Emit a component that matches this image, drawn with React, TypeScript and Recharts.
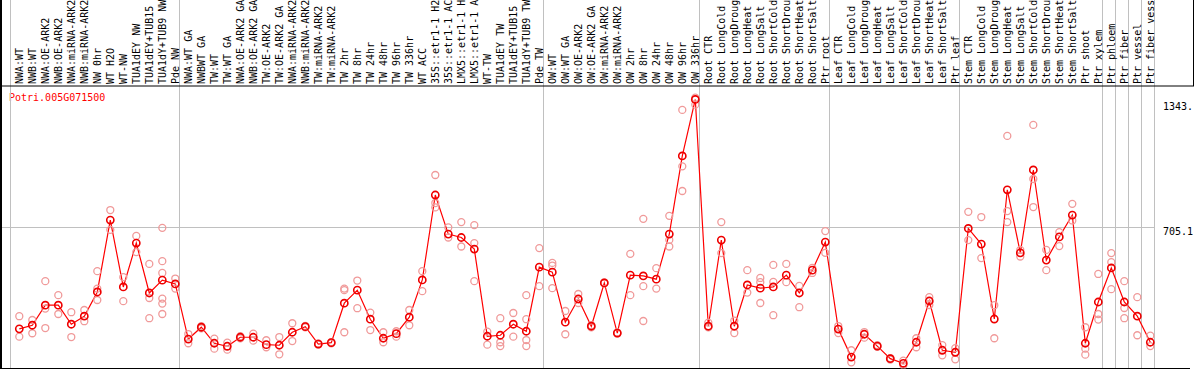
import {
  ComposedChart,
  Line,
  Scatter,
  XAxis,
  YAxis,
  ReferenceLine,
  Customized,
} from "recharts";

const categories = [
  "NWA:WT", "NWB:WT", "NWA:OE-ARK2", "NWB:OE-ARK2", "NWA:miRNA-ARK2", "NWB:miRNA-ARK2",
  "NW 0hr", "WT H2O", "WT-NW", "TUA1dEY NW", "TUA1dEY+TUB15 NW", "TUA1dY+TUB9 NW", "Pde NW",
  "NWA:WT GA", "NWBWT GA", "TW:WT", "TW:WT GA", "NWA:OE-ARK2 GA", "NWB:OE-ARK2 GA",
  "TW:OE-ARK2", "TW:OE-ARK2 GA", "NWA:miRNA-ARK2", "NWB:miRNA-ARK2", "TW:miRNA-ARK2",
  "TW:miRNA-ARK2", "TW 2hr", "TW 8hr", "TW 24hr", "TW 48hr", "TW 96hr", "TW 336hr", "WT ACC",
  "35S::etr1-1 H2O", "35S::etr1-1 ACC", "LMX5::etr1-1 H2O", "LMX5::etr1-1 ACC", "WT-TW",
  "TUA1dEY TW", "TUA1dEY+TUB15 TW", "TUA1dY+TUB9 TW", "Pde TW",
  "OW:WT", "OW:WT GA", "OW:OE-ARK2", "OW:OE-ARK2 GA", "OW:miRNA-ARK2", "OW:miRNA-ARK2",
  "OW 2hr", "OW 8hr", "OW 24hr", "OW 48hr", "OW 96hr", "OW 336hr",
  "Root CTR", "Root LongCold", "Root LongDrought", "Root LongHeat", "Root LongSalt",
  "Root ShortCold", "Root ShortDrought", "Root ShortHeat", "Root ShortSalt", "Ptr root",
  "Leaf CTR", "Leaf LongCold", "Leaf LongDrought", "Leaf LongHeat", "Leaf LongSalt",
  "Leaf ShortCold", "Leaf ShortDrought", "Leaf ShortHeat", "Leaf ShortSalt", "Ptr leaf",
  "Stem CTR", "Stem LongCold", "Stem LongDrought", "Stem LongHeat", "Stem LongSalt",
  "Stem ShortCold", "Stem ShortDrought", "Stem ShortHeat", "Stem ShortSalt", "Ptr shoot",
  "Ptr xylem", "Ptr phloem", "Ptr fiber", "Ptr vessel", "Ptr fiber vessel",
];

// mean expression per sample
const means = [
  198, 216, 316, 316, 221, 261, 382, 741, 407, 626, 377, 441, 422,
  147, 206, 126, 111, 156, 156, 119, 116, 181, 209, 122, 129, 326, 391, 246, 151, 174, 256,
  442, 866, 671, 654, 596, 161, 166, 221, 186, 506,
  481, 231, 347, 211, 427, 177, 466, 462, 446, 671, 1061, 1343,
  211, 641, 211, 417, 401, 407, 466, 377, 491, 631,
  197, 57, 171, 112, 49, 26, 131, 337, 91, 81,
  699, 621, 247, 892, 577, 991, 541, 657, 766, 126, 332,
  502, 332, 261, 131,
];

// individual replicates per sample
const replicates = [
  [261, 159], [242, 176], [436, 299, 202], [366, 272], [281, 157], [292, 236],
  [486, 399, 342], [791, 692], [456, 336], [662, 581], [522, 352, 251],
  [702, 536, 477, 349, 324, 272], [449, 399],
  [172, 126], [201, 211], [149, 99], [129, 94], [151, 161], [174, 139], [141, 106],
  [157, 71], [226, 137], [205, 213], [120, 125], [126, 132], [399, 391, 181], [439, 301],
  [279, 192], [181, 131], [186, 159], [292, 216], [486, 386], [966, 826, 804], [704, 654],
  [731, 609], [716, 626, 436], [184, 119], [251, 131, 112], [277, 159],
  [366, 246, 142, 112], [601, 411],
  [527, 514, 401], [287, 171], [372, 327], [205, 216], [425, 430], [175, 180], [572, 366],
  [747, 411, 237], [501, 399], [762, 642, 609], [1291, 1009, 886], [1352, 1317],
  [229, 205], [731, 576], [239, 177], [491, 379], [452, 431, 327], [517, 432, 266],
  [522, 431], [412, 306], [477, 502], [686, 577],
  [177, 212], [91, 31], [154, 182], [108, 117], [45, 52], [39, 16], [151, 106], [356, 317],
  [117, 66], [102, 46],
  [782, 641], [756, 551], [316, 151], [1161, 786, 731], [592, 559], [1216, 946, 806],
  [592, 491], [681, 611], [822, 739], [206, 99, 69], [472, 272, 244],
  [576, 531, 396], [436, 302, 251], [356, 166], [164, 112],
];

// first sample index of each block, plus the end
const groupStarts = [0, 13, 41, 53, 63, 73, 84, 85, 86, 87, 88];

const yTicks = [0, 705.1, 1343];
const yTickText = ["0", "705.1", "1343."];

const title = "Potri.005G071500";

const W = 1194;
const H = 370;
const STEP = 13;
const X_MIN = -19.3 / STEP;
const X_MAX = X_MIN + W / STEP;
const Y_MAX = 1410.2;
const Y_TOP = 1900;
const FONT = "'DejaVu Sans Mono', 'Liberation Mono', monospace";

const lineData = means.map((v, i) => ({ x: i, v }));
const repData = replicates.flatMap((vals, i) => vals.map((v) => ({ x: i, v })));

const XTick = (props: any) => {
  const { x, payload } = props;
  return (
    <text
      x={x}
      y={84}
      dy="0.35em"
      transform={`rotate(-90 ${x} 84)`}
      textAnchor="start"
      fontFamily={FONT}
      fontSize={10}
      fill="#000"
    >
      {categories[payload.value]}
    </text>
  );
};

const YTick = (props: any) => {
  const { y, payload } = props;
  const idx = yTicks.indexOf(payload.value);
  const dy = payload.value === 0 ? -3.5 : idx === 2 ? 11 : 8;
  return (
    <text x={1163} y={y + dy} fontFamily={FONT} fontSize={10} fill="#000">
      {yTickText[idx]}
    </text>
  );
};

const RepDot = (props: any) => (
  <circle cx={props.cx} cy={props.cy} r={3.5} fill="none" stroke="#f09a9a" strokeWidth={1.3} />
);

const MeanDot = (props: any) => (
  <circle
    key={props.index}
    cx={props.cx}
    cy={props.cy}
    r={3.6}
    fill="none"
    stroke="#ee0000"
    strokeWidth={1.6}
  />
);

export default function App() {
  return (
    <div style={{ position: "absolute", left: 0, top: 0, background: "#fff" }}>
      <ComposedChart
        width={W}
        height={H}
        data={lineData}
        margin={{ top: 0, right: 0, bottom: 1.5, left: 0 }}
      >
        <XAxis
          dataKey="x"
          type="number"
          orientation="top"
          domain={[X_MIN, X_MAX]}
          allowDataOverflow
          ticks={categories.map((_, i) => i)}
          interval={0}
          height={86}
          tickLine={false}
          axisLine={{ stroke: "#000" }}
          tick={<XTick />}
        />
        <YAxis
          type="number"
          orientation="right"
          mirror
          domain={[0, Y_MAX]}
          allowDataOverflow
          ticks={yTicks}
          axisLine={false}
          tickLine={false}
          tick={<YTick />}
        />
        {groupStarts.map((k) => (
          <ReferenceLine
            key={k}
            ifOverflow="visible"
            segment={[
              { x: k - 0.64, y: 0 },
              { x: k - 0.64, y: Y_TOP },
            ]}
            stroke="#c0c0c0"
            strokeWidth={1}
            shapeRendering="crispEdges"
          />
        ))}
        <ReferenceLine
          ifOverflow="visible"
          segment={[
            { x: X_MIN, y: 705.1 },
            { x: 87.36, y: 705.1 },
          ]}
          stroke="#c0c0c0"
          shapeRendering="crispEdges"
        />
        <ReferenceLine
          ifOverflow="visible"
          segment={[
            { x: X_MIN, y: 0 },
            { x: X_MIN + 1190 / STEP, y: 0 },
          ]}
          stroke="#000"
          strokeWidth={1.5}
          shapeRendering="crispEdges"
        />
        <ReferenceLine
          ifOverflow="visible"
          segment={[
            { x: X_MIN + 1.2 / STEP, y: 0 },
            { x: X_MIN + 1.2 / STEP, y: Y_TOP },
          ]}
          stroke="#000"
          strokeWidth={1.5}
          shapeRendering="crispEdges"
        />
        <ReferenceLine
          ifOverflow="visible"
          segment={[
            { x: X_MAX - 1 / STEP, y: Y_MAX },
            { x: X_MAX - 1 / STEP, y: Y_TOP },
          ]}
          stroke="#000"
          shapeRendering="crispEdges"
        />
        <Scatter
          data={repData}
          dataKey="v"
          isAnimationActive={false}
          shape={<RepDot />}
        />
        <Line
          dataKey="v"
          type="linear"
          stroke="#ff0000"
          strokeWidth={1.2}
          dot={<MeanDot />}
          activeDot={false}
          isAnimationActive={false}
        />
        <Customized
          component={() => (
            <text x={9} y={101} fontFamily={FONT} fontSize={10} fill="#ff0000">
              {title}
            </text>
          )}
        />
      </ComposedChart>
    </div>
  );
}
